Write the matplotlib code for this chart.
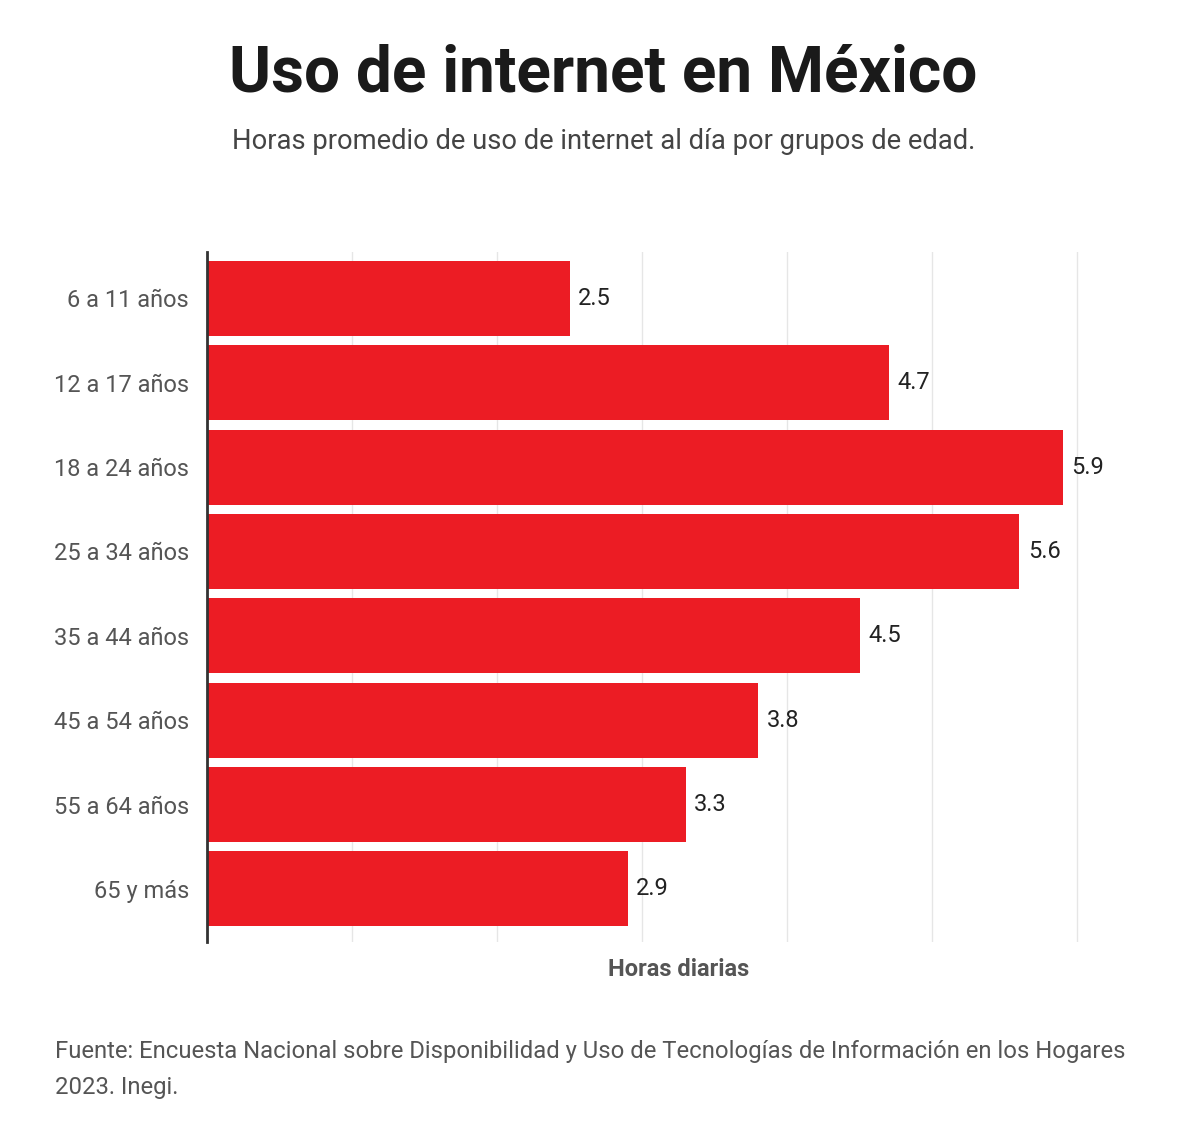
import matplotlib.pyplot as plt

plt.rcParams['font.family'] = ['Roboto', 'DejaVu Sans']

# data
grupos = ['6 a 11 años', '12 a 17 años', '18 a 24 años', '25 a 34 años',
          '35 a 44 años', '45 a 54 años', '55 a 64 años', '65 y más']
horas = [2.5, 4.7, 5.9, 5.6, 4.5, 3.8, 3.3, 2.9]

rojo = '#EC1C24'

fig = plt.figure(figsize=(12, 11.42), dpi=100)
ax = fig.add_axes([0.1725, 0.1751, 0.7855, 0.6042])

y = range(len(grupos))
ax.barh(y, horas, height=0.89, color=rojo, zorder=3)

for i, v in enumerate(horas):
    ax.text(v + 0.06, i, f'{v}', va='center', ha='left', fontsize=17, color='#222222')

ax.set_xlim(0, 6.5)
ax.set_ylim(7.63, -0.55)
ax.set_xticks(range(0, 7))
ax.set_xticklabels([])
ax.tick_params(axis='x', length=0)
ax.grid(axis='x', color='#e6e6e6', linewidth=1, zorder=0)

ax.set_yticks(list(y))
ax.set_yticklabels(grupos, fontsize=17, color='#555555')
ax.tick_params(axis='y', length=0, pad=13)

for s in ['top', 'right', 'bottom']:
    ax.spines[s].set_visible(False)
ax.spines['left'].set_color('#333333')
ax.spines['left'].set_linewidth(2)
ax.spines['left'].set_zorder(4)

ax.set_xlabel('Horas diarias', fontsize=17, fontweight='bold', color='#555555', labelpad=8)

# titles
fig.text(0.503, 0.935, 'Uso de internet en México', ha='center', va='center',
         fontsize=46, fontweight='bold', color='#1a1a1a')
fig.text(0.503, 0.876, 'Horas promedio de uso de internet al día por grupos de edad.',
         ha='center', va='center', fontsize=19.7, color='#444444')

# source
fig.text(0.046, 0.079, 'Fuente: Encuesta Nacional sobre Disponibilidad y Uso de Tecnologías de Información en los Hogares',
         ha='left', va='center', fontsize=17.2, color='#555555')
fig.text(0.046, 0.048, '2023. Inegi.', ha='left', va='center', fontsize=17.2, color='#555555')

fig.savefig('out.png', dpi=100, facecolor='white')
